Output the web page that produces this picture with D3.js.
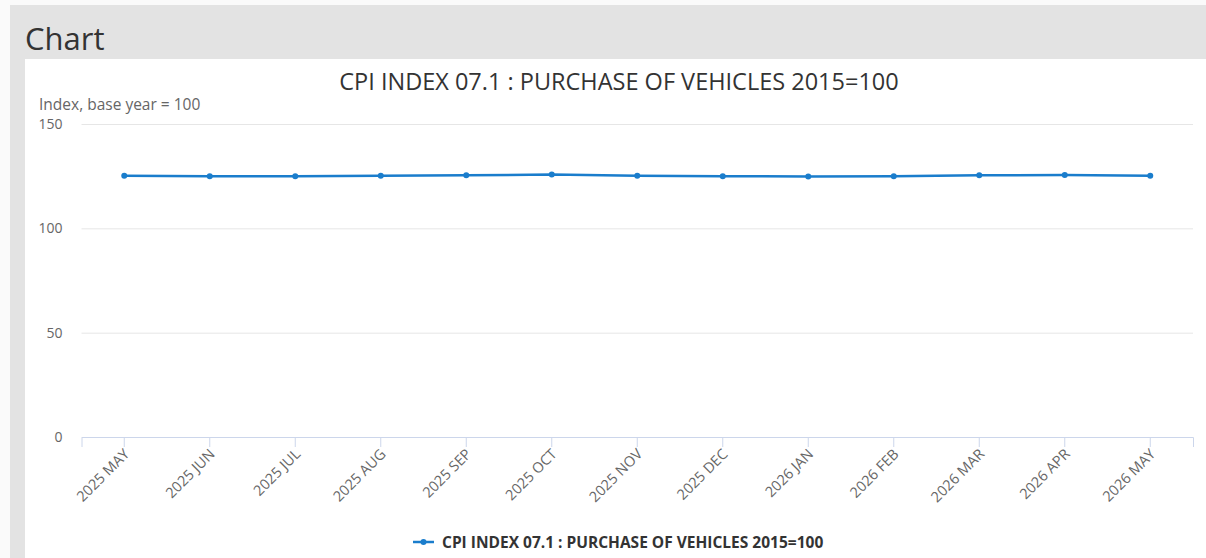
<!DOCTYPE html>
<html>
<head>
<meta charset="utf-8">
<title>Chart</title>
<script src="https://cdn.jsdelivr.net/npm/d3@7"></script>
<style>
  body { margin: 0; background: #fafafa; font-family: "Open Sans", sans-serif; }
</style>
</head>
<body>
<script>

// data
var months = ["2025 MAY", "2025 JUN", "2025 JUL", "2025 AUG", "2025 SEP", "2025 OCT", "2025 NOV",
              "2025 DEC", "2026 JAN", "2026 FEB", "2026 MAR", "2026 APR", "2026 MAY"];
var values = [125.2, 125.0, 125.0, 125.2, 125.4, 125.8, 125.2, 125.0, 124.9, 125.0, 125.4, 125.5, 125.2];
var yTicks = [0, 50, 100, 150];
var seriesName = "CPI INDEX 07.1 : PURCHASE OF VEHICLES 2015=100";

const W = 1206, H = 558;
const margin = {top: 124, bottom: 121, right: 13, left: 81.5},
    width = W - margin.left - margin.right,
    height = H - margin.top - margin.bottom;

let svg = d3.select("body")
    .append("svg")
    .attr("width", W)
    .attr("height", H)
    .style("display", "block");

// grey frame and the white panel
svg.append("rect")
    .attr("x", 10).attr("y", 5)
    .attr("width", W - 10).attr("height", H - 5)
    .attr("fill", "#e3e3e3");

svg.append("rect")
    .attr("x", 25).attr("y", 59)
    .attr("width", W - 25).attr("height", H - 59)
    .attr("fill", "#ffffff");

svg.append("text")
    .attr("x", 25).attr("y", 50)
    .attr("font-size", 31)
    .attr("fill", "#333")
    .text("Chart");

// chart title
svg.append("text")
    .attr("x", 619).attr("y", 90)
    .attr("text-anchor", "middle")
    .attr("font-size", 23.5)
    .attr("fill", "#333")
    .text(seriesName);

svg.append("text")
    .attr("x", 39).attr("y", 110)
    .attr("font-size", 15.5)
    .attr("fill", "#666")
    .text("Index, base year = 100");

let g = svg.append("g")
    .attr("transform", "translate(" + margin.left + "," + margin.top + ")");

var x = d3.scaleBand()
    .domain(months)
    .range([0, width])
    .padding(0);

var y = d3.scaleLinear()
    .domain([0, 150])
    .range([height, 0]);

// gridlines + y labels
var yAxis = g.append("g")
    .call(d3.axisLeft(y).tickValues(yTicks).tickSize(-width).tickPadding(19));
yAxis.select(".domain").remove();
yAxis.selectAll(".tick line").attr("stroke", "#e6e6e6");
yAxis.selectAll(".tick text")
    .attr("fill", "#666")
    .attr("font-size", 14)
    .attr("font-family", "Open Sans");

// x axis with slanted labels
var xAxis = g.append("g")
    .attr("transform", "translate(0," + height + ")")
    .call(d3.axisBottom(x).tickSizeOuter(0).tickSize(10));
xAxis.select(".domain").attr("stroke", "#ccd6eb");
xAxis.selectAll(".tick line").attr("stroke", "#ccd6eb");
xAxis.selectAll(".tick text")
    .attr("fill", "#666")
    .attr("font-size", 14.5)
    .attr("font-family", "Open Sans")
    .attr("text-anchor", "end")
    .attr("x", 0).attr("y", 0).attr("dy", 0)
    .attr("transform", "translate(6,18) rotate(-45)");

var cx = function(d, i) { return x(months[i]) + x.bandwidth() / 2; };

var line = d3.line()
    .x(cx)
    .y(function(d) { return y(d); });

g.append("path")
    .datum(values)
    .attr("fill", "none")
    .attr("stroke", "#1a7dcc")
    .attr("stroke-width", 2.5)
    .attr("d", line);

g.selectAll(".dot")
    .data(values)
    .enter().append("circle")
    .attr("cx", cx)
    .attr("cy", function(d) { return y(d); })
    .attr("r", 3)
    .attr("fill", "#1a7dcc");

// legend
var legend = svg.append("g").attr("transform", "translate(413,542)");
legend.append("line")
    .attr("x1", 0).attr("x2", 21)
    .attr("stroke", "#1a7dcc").attr("stroke-width", 2.5);
legend.append("circle")
    .attr("cx", 10.5).attr("r", 3)
    .attr("fill", "#1a7dcc");
legend.append("text")
    .attr("x", 29).attr("y", 5.5)
    .attr("font-size", 15.5)
    .attr("font-weight", "bold")
    .attr("fill", "#333")
    .text(seriesName);

</script>
</body>
</html>
